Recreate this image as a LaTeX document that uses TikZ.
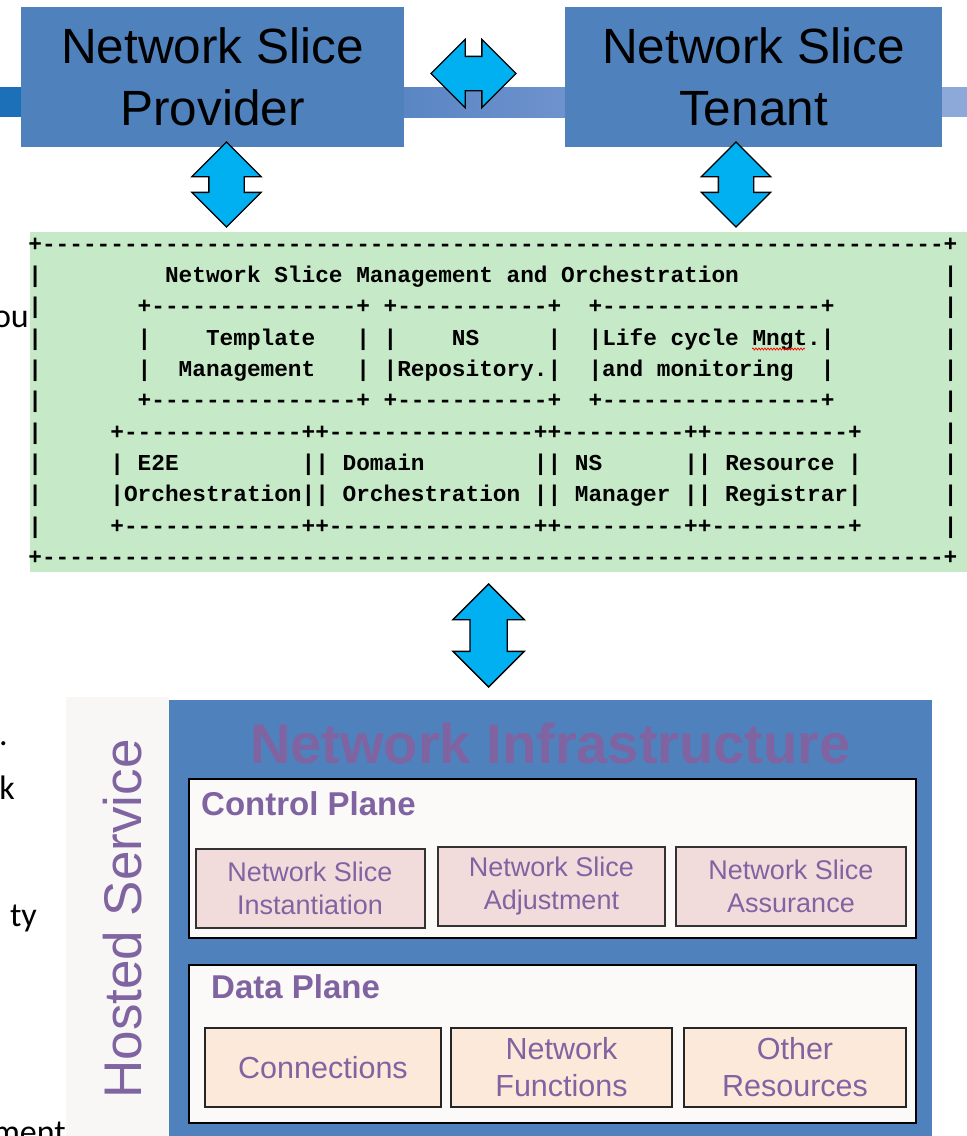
\documentclass[tikz,border=0pt]{standalone}
\usepackage{fontspec}
\setmainfont{Liberation Sans}
\setmonofont{Liberation Mono}
\newfontfamily\slidefont{Carlito}
\usepackage{tikz}
\usetikzlibrary{shapes.arrows,positioning,decorations.pathmorphing}

\definecolor{boxblue}{HTML}{4F81BD}
\definecolor{arrowcyan}{HTML}{00B0F0}
\definecolor{mangreen}{HTML}{C6EAC8}
\definecolor{bandleft}{HTML}{1C70B7}
\definecolor{bandmid}{HTML}{5A86C4}
\definecolor{bandmidr}{HTML}{6E92CD}
\definecolor{bandright}{HTML}{8CA9DA}
\definecolor{infrapurple}{HTML}{8064A2}
\definecolor{hostbg}{HTML}{F8F7F5}
\definecolor{planebg}{HTML}{FBFAF8}
\definecolor{ctrlpink}{HTML}{F2DCDB}
\definecolor{datapeach}{HTML}{FDE9D9}

\ExplSyntaxOn
\NewDocumentCommand\rep{mm}{\prg_replicate:nn{#1}{#2}}
\ExplSyntaxOff
\newcommand\dashes[1]{\rep{#1}{-}}
\newcommand\blank[1]{\rep{#1}{~}}

\begin{document}
\begin{tikzpicture}[x=1pt,y=-1pt,
 topbox/.style={fill=boxblue,inner sep=0pt,minimum height=140pt,align=center,font=\fontsize{49.5}{62}\selectfont},
 blockarrow/.style={double arrow,draw=black,line width=1.3pt,fill=arrowcyan,double arrow head extend=17pt,double arrow tip angle=90,inner xsep=0pt},
 asciirow/.style={anchor=base west,inner sep=0pt,font=\ttfamily\bfseries\fontsize{22.77}{27}\selectfont},
 fragment/.style={anchor=base east,inner sep=0pt,font=\slidefont\fontsize{34}{40}\selectfont},
 plane/.style={draw=black,line width=2.5pt,fill=planebg,minimum width=727pt},
 planelabel/.style={anchor=base west,inner sep=0pt,text=infrapurple,font=\bfseries\fontsize{33}{40}\selectfont},
 ctrlbox/.style={draw=black!80,line width=2pt,fill=ctrlpink,inner sep=0pt,minimum height=79pt,align=center,text=infrapurple,font=\fontsize{27}{33}\selectfont},
 databox/.style={draw=black!85,line width=2pt,fill=datapeach,inner sep=0pt,minimum height=79pt,align=center,text=infrapurple,font=\fontsize{30.5}{37}\selectfont}]
\useasboundingbox (0,0) rectangle (967,1136);

% slide text behind the figure
\node[fragment] (fragou) at (29,327) {ou};
\node[fragment] (fragdot) at (8,745) {.};
\node[fragment] (fragk) at (15,799) {k};
\node[fragment] (fragty) at (37,926) {ty};
\node[fragment] (fragment) at (66,1143) {ment};

% title band
\fill[bandleft] (0,87) rectangle (21,117);
\shade[left color=bandmid,right color=bandmidr] (404,87) rectangle (565,117);
\fill[bandright] (942,87) rectangle (967,117);

\node[topbox,minimum width=383pt] (provider) at (212.5,77) {Network Slice\\Provider};
\node[topbox,minimum width=377pt] (tenant) at (753.5,77) {Network Slice\\Tenant};

\node[blockarrow,minimum height=85pt,inner ysep=16.5pt] (peer) at (473.5,73.5) {};
\node[blockarrow,rotate=90,minimum height=85pt,inner ysep=17pt] (provarrow) at (226.5,184.5) {};
\node[blockarrow,rotate=90,minimum height=85pt,inner ysep=17pt] (tenarrow) at (736,184.5) {};

% management and orchestration (ascii figure)
\node[fill=mangreen,inner sep=0pt,minimum width=937pt,minimum height=340pt] (mano) at (498.5,402) {};
\node[asciirow] (row0) at (28.2,251.3) {+\dashes{66}+};
\node[asciirow] (row1) at (28.2,282.6) {|\blank{9}Network~Slice~Management~and~Orchestration\blank{15}|};
\node[asciirow] (row2) at (28.2,313.9) {|\blank{7}+\dashes{15}+~+\dashes{11}+\blank{2}+\dashes{16}+\blank{8}|};
\node[asciirow] (row3) at (28.2,345.2) {|\blank{7}|\blank{4}Template\blank{3}|~|\blank{4}NS\blank{5}|\blank{2}|Life~cycle~Mngt.|\blank{8}|};
\node[asciirow] (row4) at (28.2,376.5) {|\blank{7}|\blank{2}Management\blank{3}|~|Repository.|\blank{2}|and~monitoring\blank{2}|\blank{8}|};
\node[asciirow] (row5) at (28.2,407.8) {|\blank{7}+\dashes{15}+~+\dashes{11}+\blank{2}+\dashes{16}+\blank{8}|};
\node[asciirow] (row6) at (28.2,439.1) {|\blank{5}+\dashes{13}++\dashes{15}++\dashes{9}++\dashes{10}+\blank{6}|};
\node[asciirow] (row7) at (28.2,470.4) {|\blank{5}|~E2E\blank{9}||~Domain\blank{8}||~NS\blank{6}||~Resource~|\blank{6}|};
\node[asciirow] (row8) at (28.2,501.7) {|\blank{5}|Orchestration||~Orchestration~||~Manager~||~Registrar|\blank{6}|};
\node[asciirow] (row9) at (28.2,533.0) {|\blank{5}+\dashes{13}++\dashes{15}++\dashes{9}++\dashes{10}+\blank{6}|};
\node[asciirow] (row10) at (28.2,564.3) {+\dashes{66}+};
\draw[red,line width=0.7pt,decorate,decoration={snake,amplitude=1pt,segment length=3pt}] (752,349) -- (805,349);

\node[blockarrow,rotate=90,minimum height=103pt,inner ysep=18pt] (downarrow) at (488.6,635.5) {};

% network infrastructure
\node[fill=hostbg,inner sep=0pt,minimum width=103pt,minimum height=439pt] (hosted) at (117.5,916.5) {};
\node[rotate=90,inner sep=0pt,text=infrapurple,font=\fontsize{53}{60}\selectfont] (hostedlabel) at (123,919) {Hosted Service};
\node[fill=boxblue,inner sep=0pt,minimum width=763pt,minimum height=436pt] (infra) at (550.5,918) {};
\node[anchor=base,inner sep=0pt,text=infrapurple,font=\bfseries\fontsize{56}{64}\selectfont] (infratitle) at (550.5,763) {Network Infrastructure};

\node[plane,minimum height=159pt] (control) at (552.5,858.5) {};
\node[planelabel] (controllabel) at (201,815) {Control Plane};
\node[ctrlbox,minimum width=229pt] (inst) at (310,888) {Network Slice\\Instantiation};
\node[ctrlbox,minimum width=227pt] (adjust) at (551.5,886.5) {Network Slice\\Adjustment};
\node[ctrlbox,minimum width=230pt] (assure) at (791,886.5) {Network Slice\\Assurance};

\node[plane,minimum height=158pt] (data) at (552.5,1044) {};
\node[planelabel] (datalabel) at (211,998) {Data Plane};
\node[databox,minimum width=236pt] (conn) at (323,1067.5) {Connections};
\node[databox,minimum width=221pt] (func) at (561.5,1067.5) {Network\\Functions};
\node[databox,minimum width=222pt] (other) at (795,1067.5) {Other\\Resources};
\end{tikzpicture}
\end{document}
